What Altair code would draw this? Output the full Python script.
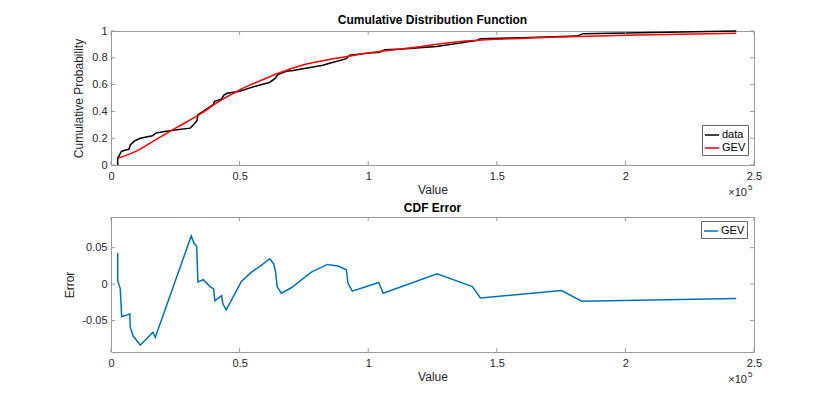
import altair as alt
import pandas as pd

# ---------------- data ----------------
data_x = [2600, 2600, 4000, 5300, 7000, 7500, 9200, 11400, 16100, 17400, 20200,
          24800, 30800, 32100, 33400, 33800, 35800, 39700, 40300, 42900, 43800,
          45100, 50000, 56500, 61600, 63500, 64900, 68200, 70800, 82400, 85000,
          91500, 92800, 100600, 104500, 106400, 113500, 126500, 142000, 143600,
          160000, 181000, 183500, 200000, 243100]
data_p = [0.0, 0.05, 0.10, 0.11, 0.117, 0.15, 0.18, 0.20, 0.218, 0.238, 0.248,
          0.262, 0.275, 0.30, 0.33, 0.375, 0.40, 0.45, 0.475, 0.49, 0.52,
          0.535, 0.55, 0.59, 0.616, 0.64, 0.675, 0.70, 0.705, 0.745, 0.76,
          0.794, 0.82, 0.835, 0.842, 0.86, 0.865, 0.885, 0.928, 0.943,
          0.95, 0.962, 0.98, 0.985, 1.0]

gev_x = [2600, 9900, 17600, 25400, 34500, 42300, 50000, 57800, 65600, 74600,
         87600, 100600, 113500, 139500, 150000, 178300, 200000, 243100]
gev_p = [0.050, 0.104, 0.192, 0.279, 0.378, 0.478, 0.560, 0.627, 0.689, 0.746,
         0.796, 0.838, 0.868, 0.927, 0.938, 0.958, 0.968, 0.983]

err_x = [2600, 2600, 3600, 4160, 7300, 7500, 8550, 11400, 16300, 17200, 31200,
         32300, 33300, 33800, 35900, 38400, 39900, 40400, 43000, 43500, 44800,
         50700, 54600, 58400, 61700, 63200, 64000, 64600, 66200, 70100, 77900,
         84100, 88300, 91500, 92100, 93800, 104100, 105800, 126800, 140500,
         143600, 175200, 183000, 243100]
err_e = [0.0427, 0.005, -0.0065, -0.0446, -0.041, -0.059, -0.0708, -0.0836,
         -0.066, -0.073, 0.066, 0.056, 0.052, 0.003, 0.006, -0.003, -0.0065,
         -0.023, -0.0157, -0.027, -0.0354, 0.0036, 0.0165, 0.0256, 0.0348,
         0.028, 0.0165, -0.0033, -0.0124, -0.005, 0.0165, 0.027, 0.0248,
         0.0197, 0.0018, -0.0096, 0.0022, -0.0124, 0.0142, -0.0033, -0.0189,
         -0.0088, -0.0234, -0.0198]

x_ticks = [0, 50000, 100000, 150000, 200000, 250000]
cdf_ticks = [0, 0.2, 0.4, 0.6, 0.8, 1]
err_ticks = [-0.05, 0, 0.05]

top_title = "Cumulative Distribution Function"
bottom_title = "CDF Error"
series_top = ["data", "GEV"]
colors_top = ["#000000", "#ff0000"]
series_bottom = ["GEV"]
colors_bottom = ["#0072BD"]

# ---------------- styling ----------------
W = 643
H1 = 134
H2 = 135
FONT = "Liberation Sans"
BOX = "#9a9a9a"
TXT = "#262626"
TL = 4

x_scale = alt.Scale(domain=[0, 250000], nice=False, zero=False)
y1_scale = alt.Scale(domain=[0, 1], nice=False, zero=False)
y2_scale = alt.Scale(domain=[-0.093, 0.092], nice=False, zero=False)

X_AXIS = alt.Axis(values=x_ticks, labelExpr="toString(datum.value / 100000)",
                  title="Value", ticks=False, domain=False, grid=False,
                  labelPadding=5, titlePadding=3, labelFlush=False,
                  labelOverlap=False)
Y1_AXIS = alt.Axis(values=cdf_ticks, labelExpr="toString(datum.value)",
                   title="Cumulative Probability", ticks=False, domain=False,
                   grid=False, labelPadding=4, titlePadding=6,
                   labelOverlap=False, labelFlush=False)
Y2_AXIS = alt.Axis(values=err_ticks, labelExpr="toString(datum.value)",
                   title="Error", ticks=False, domain=False, grid=False,
                   labelPadding=4, titlePadding=5, labelOverlap=False,
                   labelFlush=False)


def tick_layers(y_vals, y_scale, y_axis, H):
    xt = pd.DataFrame({"v": x_ticks})
    yt = pd.DataFrame({"v": y_vals})
    base_x = alt.Chart(xt).mark_rule(color=BOX, strokeWidth=1)
    base_y = alt.Chart(yt).mark_rule(color=BOX, strokeWidth=1)
    xb = base_x.encode(x=alt.X("v:Q", scale=x_scale, axis=X_AXIS),
                       y=alt.value(H), y2=alt.value(H - TL))
    xtp = base_x.encode(x=alt.X("v:Q", scale=x_scale, axis=X_AXIS),
                        y=alt.value(0), y2=alt.value(TL))
    yl = base_y.encode(y=alt.Y("v:Q", scale=y_scale, axis=y_axis),
                       x=alt.value(0), x2=alt.value(TL))
    yr = base_y.encode(y=alt.Y("v:Q", scale=y_scale, axis=y_axis),
                       x=alt.value(W - TL), x2=alt.value(W))
    return [xb, xtp, yl, yr]


def exponent(H):
    a = alt.Chart(pd.DataFrame({"t": ["×10"]})).mark_text(
        align="right", baseline="alphabetic", font=FONT, fontSize=11, color=TXT
    ).encode(text="t:N", x=alt.value(W - 7), y=alt.value(H + 31))
    b = alt.Chart(pd.DataFrame({"t": ["5"]})).mark_text(
        align="left", baseline="alphabetic", font=FONT, fontSize=8, color=TXT
    ).encode(text="t:N", x=alt.value(W - 6), y=alt.value(H + 25))
    return [a, b]


# ---------------- top chart ----------------
data_df = pd.DataFrame({"x": data_x, "y": data_p, "series": "data", "i": range(len(data_x))})
gev_df = pd.DataFrame({"x": gev_x, "y": gev_p, "series": "GEV", "i": range(len(gev_x))})

top_color = alt.Color(
    "series:N", scale=alt.Scale(domain=series_top, range=colors_top),
    legend=alt.Legend(orient="none", legendX=591, legendY=94, title=None,
                      symbolType="stroke", symbolStrokeWidth=1.5,
                      symbolSize=200, labelFont=FONT, labelFontSize=11,
                      labelColor="#000", strokeColor="#666",
                      fillColor="white", padding=2, rowPadding=0,
                      labelOffset=2))

data_line = alt.Chart(data_df).mark_line(strokeWidth=1.5).encode(
    x=alt.X("x:Q", scale=x_scale, axis=X_AXIS),
    y=alt.Y("y:Q", scale=y1_scale, axis=Y1_AXIS),
    color=top_color,
    order="i:Q",
)
gev_line = alt.Chart(gev_df).mark_line(strokeWidth=1.5, interpolate="monotone").encode(
    x=alt.X("x:Q", scale=x_scale, axis=X_AXIS),
    y=alt.Y("y:Q", scale=y1_scale, axis=Y1_AXIS),
    color=top_color,
    order="i:Q",
)

top = alt.layer(data_line, gev_line, *tick_layers(cdf_ticks, y1_scale, Y1_AXIS, H1),
                *exponent(H1)).properties(
    width=W, height=H1,
    title=alt.TitleParams(top_title, font=FONT, fontSize=12, fontWeight="bold",
                          color="#000", anchor="middle", frame="group", offset=-2),
)

# ---------------- bottom chart ----------------
bot_df = pd.DataFrame({"x": err_x, "e": err_e, "series": "GEV", "i": range(len(err_x))})

bot_line = alt.Chart(bot_df).mark_line(strokeWidth=1.5).encode(
    x=alt.X("x:Q", scale=x_scale, axis=X_AXIS),
    y=alt.Y("e:Q", scale=y2_scale, axis=Y2_AXIS),
    color=alt.Color("series:N", scale=alt.Scale(domain=series_bottom, range=colors_bottom),
                    legend=alt.Legend(orient="none", legendX=590, legendY=4, title=None,
                                      symbolType="stroke", symbolStrokeWidth=1.5,
                                      symbolSize=200, labelFont=FONT, labelFontSize=11,
                                      labelColor="#000", strokeColor="#666",
                                      fillColor="white", padding=2, labelOffset=2)),
    order="i:Q",
)

bottom = alt.layer(bot_line, *tick_layers(err_ticks, y2_scale, Y2_AXIS, H2),
                   *exponent(H2)).properties(
    width=W, height=H2,
    title=alt.TitleParams(bottom_title, font=FONT, fontSize=12, fontWeight="bold",
                          color="#000", anchor="middle", frame="group", offset=2),
)

chart = alt.vconcat(top, bottom, spacing=2).resolve_scale(color="independent").resolve_legend(
    color="independent"
).properties(
    padding={"left": 55, "top": 5, "right": 5, "bottom": 5},
).configure_view(stroke=BOX, strokeWidth=1).configure_axis(
    labelFont=FONT, labelFontSize=11, labelColor=TXT,
    titleFont=FONT, titleFontSize=12, titleFontWeight="normal", titleColor=TXT,
)

chart.save("out.html", embed_options={"renderer": "svg", "actions": False})
